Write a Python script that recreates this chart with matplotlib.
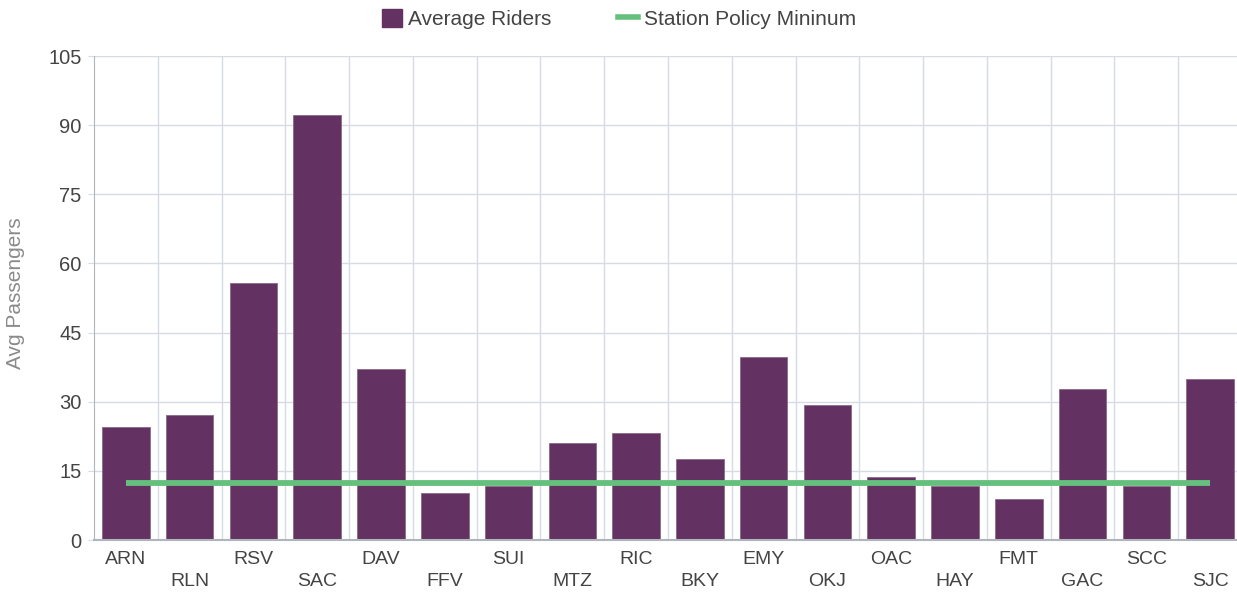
import matplotlib
matplotlib.use('Agg')
import matplotlib.pyplot as plt
import numpy as np
from matplotlib.lines import Line2D
from matplotlib.patches import Patch

plt.rcParams['font.family'] = ['Liberation Sans', 'DejaVu Sans']

# data
stations = ['ARN', 'RLN', 'RSV', 'SAC', 'DAV', 'FFV', 'SUI', 'MTZ', 'RIC',
            'BKY', 'EMY', 'OKJ', 'OAC', 'HAY', 'FMT', 'GAC', 'SCC', 'SJC']
avg_riders = [24.5, 27.1, 55.7, 92.3, 37.1, 10.2, 11.8, 21.0, 23.2,
              17.6, 39.7, 29.3, 13.7, 11.8, 8.9, 32.8, 11.8, 34.9]
policy_min = [12.3] * len(stations)
y_ticks = [0, 15, 30, 45, 60, 75, 90, 105]

purple = '#633263'
green = '#66c07d'
grid_col = '#d6dbe4'
text_col = '#444444'

W, H = 1237, 593
fig = plt.figure(figsize=(W / 100, H / 100), dpi=100)
left, right, bottom, top = 94, 1242, 540, 56
ax = fig.add_axes([left / W, 1 - bottom / H, (right - left) / W, (bottom - top) / H])

x = np.arange(len(stations))
ax.bar(x, avg_riders, width=0.745, color=purple, edgecolor='#8a6a8a', linewidth=0.6, zorder=2)
ax.plot(x, policy_min, color=green, linewidth=4.2, solid_capstyle='butt', zorder=3)

ax.set_xlim(-0.5, len(stations) - 0.5)
ax.set_ylim(0, 105)
ax.set_yticks(y_ticks)
ax.set_yticklabels([str(t) for t in y_ticks], fontsize=14.5, color=text_col)

# category boundaries as vertical grid
for b in np.arange(0.5, len(stations) - 0.5, 1):
    ax.axvline(b, color=grid_col, linewidth=1, zorder=0)
for t in y_ticks[1:]:
    ax.axhline(t, color=grid_col, linewidth=1, zorder=0)

ax.set_xticks(x)
ax.set_xticklabels([])
ax.tick_params(axis='x', length=0)
ax.tick_params(axis='y', length=4, color=grid_col, pad=5)
for i, s in enumerate(stations):
    off = 0.04 if i % 2 == 0 else 0.085
    ax.text(i, -off, s, transform=ax.get_xaxis_transform(), ha='center', va='center',
            fontsize=14, color=text_col)

for sp in ['top', 'right']:
    ax.spines[sp].set_visible(False)
ax.spines['left'].set_color('#b0b4bb')
ax.spines['bottom'].set_color('#b0b4bb')
ax.spines['bottom'].set_linewidth(1.5)

fig.text(16 / W, 1 - 293 / H, 'Avg Passengers', rotation=90, ha='center', va='center',
         fontsize=15, color='#8a8a8a')

handles = [Patch(facecolor=purple, edgecolor=purple),
           Line2D([0], [0], color=green, linewidth=4)]
fig.legend(handles, ['Average Riders', 'Station Policy Mininum'], loc='center',
           bbox_to_anchor=(619 / W, 1 - 19 / H), ncol=2, frameon=False, fontsize=15,
           handlelength=0.95, handleheight=0.95, handletextpad=0.3, columnspacing=3.2,
           labelcolor=text_col, borderpad=0)

fig.savefig('out.png', dpi=100)
